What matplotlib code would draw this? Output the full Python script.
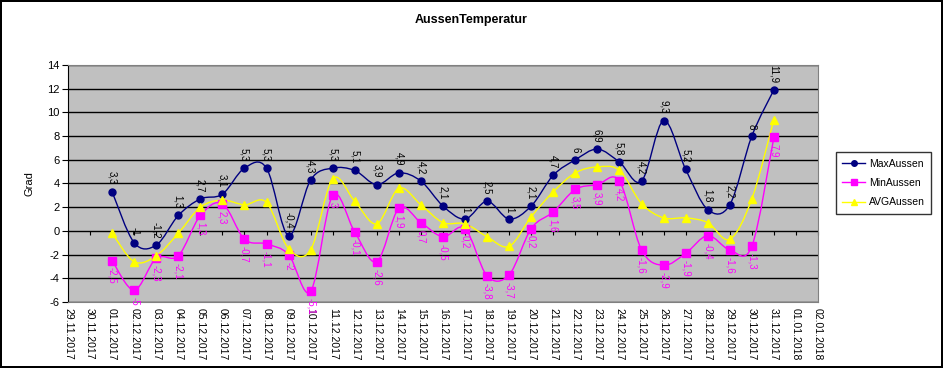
import numpy as np
import matplotlib.pyplot as plt
import matplotlib.dates as mdates
from matplotlib.path import Path
from matplotlib.patches import PathPatch

plt.rcParams['font.family'] = ['Liberation Sans', 'DejaVu Sans']
plt.rcParams['axes.unicode_minus'] = False

# Daily values 01.12.2017 - 31.12.2017
days = np.arange(np.datetime64('2017-12-01'), np.datetime64('2018-01-01'))
max_aussen = [3.3, -1, -1.2, 1.3, 2.7, 3.1, 5.3, 5.3, -0.4, 4.3,
              5.3, 5.1, 3.9, 4.9, 4.2, 2.1, 1, 2.5, 1, 2.1,
              4.7, 6, 6.9, 5.8, 4.2, 9.3, 5.2, 1.8, 2.2, 8, 11.9]
min_aussen = [-2.5, -5, -2.3, -2.1, 1.3, 2.3, -0.7, -1.1, -2, -5.1,
              3, -0.1, -2.6, 1.9, 0.7, -0.5, 0.2, -3.8, -3.7, 0.2,
              1.6, 3.5, 3.9, 4.2, -1.6, -2.9, -1.9, -0.4, -1.6, -1.3, 7.9]
avg_aussen = [-0.2, -2.6, -2.1, -0.2, 2.0, 2.6, 2.2, 2.4, -1.5, -1.6,
              4.4, 2.5, 0.6, 3.6, 2.2, 0.7, 0.6, -0.5, -1.3, 1.2,
              3.3, 4.9, 5.4, 5.1, 2.3, 1.1, 1.1, 0.7, -0.7, 2.7, 9.4]

x_start = np.datetime64('2017-11-29')
x_end = np.datetime64('2018-01-02')
y_min, y_max = -6, 14


def label_text(v):
    if float(v).is_integer():
        return str(int(v))
    return ('%.1f' % v).replace('.', ',')


def smooth_path(x, y):
    # Catmull-Rom style bezier, like Excel's smoothed lines
    pts = np.column_stack([x, y])
    n = len(pts)
    verts = [pts[0]]
    codes = [Path.MOVETO]
    for i in range(n - 1):
        p0 = pts[max(i - 1, 0)]
        p1 = pts[i]
        p2 = pts[i + 1]
        p3 = pts[min(i + 2, n - 1)]
        c1 = p1 + (p2 - p0) / 6.0
        c2 = p2 - (p3 - p1) / 6.0
        verts += [c1, c2, p2]
        codes += [Path.CURVE4] * 3
    return Path(verts, codes)


fig = plt.figure(figsize=(9.43, 3.68), dpi=100, edgecolor='black', linewidth=1.5)
ax = fig.add_axes([68 / 943, 66 / 368, 750 / 943, 237 / 368])
ax.set_facecolor('#c0c0c0')

xd = mdates.date2num(days)
series = [
    (max_aussen, '#000080', 'o', 5, 'MaxAussen'),
    (min_aussen, '#ff00ff', 's', 6, 'MinAussen'),
    (avg_aussen, '#ffff00', '^', 5.5, 'AVGAussen'),
]
handles = []
for vals, col, mk, ms, name in series:
    ax.add_patch(PathPatch(smooth_path(xd, vals), fill=False, edgecolor=col, lw=1.0, zorder=3))
    ax.plot(xd, vals, linestyle='none', marker=mk, ms=ms, color=col, zorder=4)
    lh, = ax.plot([], [], color=col, marker=mk, ms=4, lw=1.0, label=name)
    handles.append(lh)

for xv, v in zip(xd, max_aussen):
    ax.annotate(label_text(v), (xv, v), xytext=(0, 5), textcoords='offset points',
                rotation=270, ha='center', va='bottom', fontsize=7, color='black',
                annotation_clip=False, zorder=5)
for xv, v in zip(xd, min_aussen):
    ax.annotate(label_text(v), (xv, v), xytext=(0, -5), textcoords='offset points',
                rotation=270, ha='center', va='top', fontsize=7, color='#ff00ff',
                annotation_clip=False, zorder=5)

ax.set_xlim(mdates.date2num(x_start), mdates.date2num(x_end))
ax.set_ylim(y_min, y_max)
ax.set_yticks(np.arange(y_min, y_max + 1, 2))
ax.yaxis.grid(True, color='black', lw=1.0)
ax.set_axisbelow(True)
ax.tick_params(axis='y', length=4, labelsize=8, color='black', pad=2)
ax.set_ylabel('Grad', fontsize=8, labelpad=9)

ax.xaxis.set_major_locator(mdates.DayLocator())
ax.xaxis.set_major_formatter(mdates.DateFormatter('%d.%m.%Y'))
ax.tick_params(axis='x', length=0, labelsize=7.5, labelrotation=270, pad=4)

# tick marks sit on the zero line
zero_pos = (0 - y_min) / (y_max - y_min)
sec = ax.secondary_xaxis(zero_pos)
sec.xaxis.set_major_locator(mdates.DayLocator())
sec.tick_params(axis='x', length=3, direction='out', labelbottom=False, labeltop=False,
                bottom=True, top=False, color='black')
for s in sec.spines.values():
    s.set_visible(False)

for side in ['top', 'right', 'bottom']:
    ax.spines[side].set_color('#808080')
ax.spines['left'].set_color('black')

fig.text(0.5, 1 - 20 / 368, 'AussenTemperatur', ha='center', va='center',
         fontsize=9, fontweight='bold')

leg = fig.legend(handles=handles, loc='center left', bbox_to_anchor=(836 / 943, 1 - 183 / 368),
                 fontsize=7.5, frameon=True, fancybox=False, edgecolor='black',
                 handlelength=2.2, borderpad=0.6, labelspacing=0.9, handletextpad=0.4,
                 borderaxespad=0)
leg.get_frame().set_linewidth(1.0)

fig.savefig('out.png', dpi=100, edgecolor=fig.get_edgecolor())
